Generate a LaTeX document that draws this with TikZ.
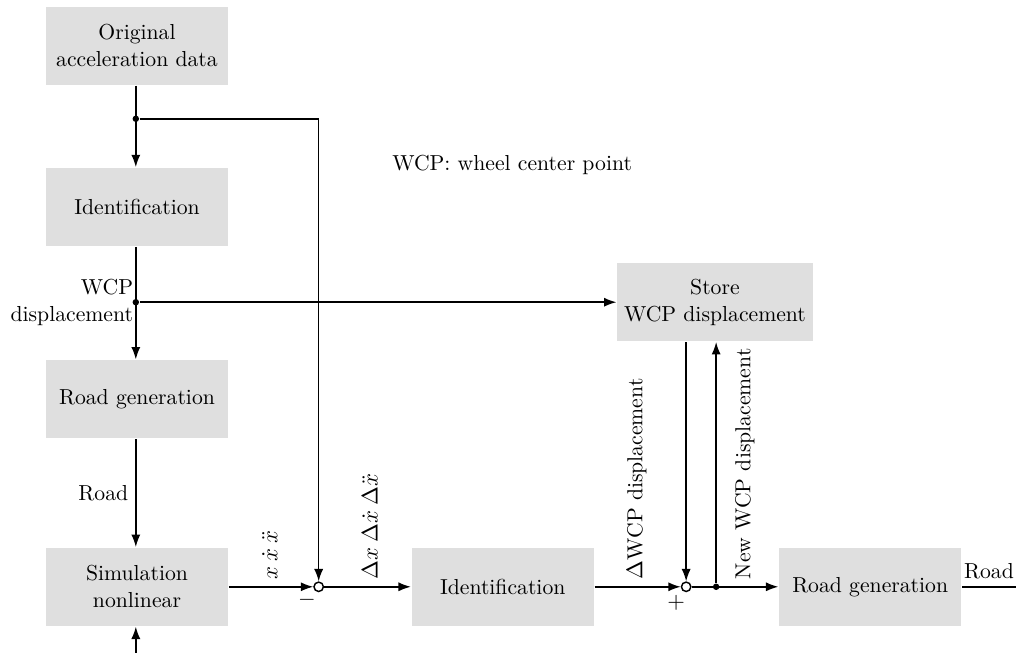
\documentclass[tikz,border=0pt]{standalone}
\usetikzlibrary{arrows.meta}

\begin{document}
\begin{tikzpicture}
  [>={Latex[length=6pt,width=4.4pt]},line width=0.7pt,
   every node/.style={font=\fontsize{10.5pt}{13pt}\selectfont},
   block/.style={rectangle,fill=gray!25,minimum width=3.1cm,minimum height=1.33cm,align=center},
   sum/.style={circle,draw,fill=white,inner sep=0pt,minimum size=1.6mm},
   dot/.style={circle,fill,inner sep=0pt,minimum size=1.1mm}]
  \useasboundingbox (0,0) rectangle (17.28,-11.1);
  % blocks
  \node[block] (orig) at (2.33,-0.78) {Original\\acceleration data};
  \node[block] (ident) at (2.33,-3.52) {Identification};
  \node[block] (road) at (2.33,-6.79) {Road generation};
  \node[block] (sim) at (2.33,-9.98) {Simulation\\nonlinear};
  \node[block] (ident2) at (8.55,-9.98) {Identification};
  \node[block] (road2) at (14.80,-9.98) {Road generation};
  \node[block,minimum width=3.3cm] (store) at (12.16,-5.14) {Store\\WCP displacement};
  \node (note) at (8.71,-2.81) {WCP: wheel center point};
  % junctions and branch points
  \node[sum] (s1) at (5.42,-9.98) {};
  \node[sum] (s2) at (11.67,-9.98) {};
  \node[dot] (d1) at (2.31,-2.02) {};
  \node[dot] (d2) at (2.31,-5.14) {};
  \node[dot] (d3) at (12.18,-9.98) {};
  \coordinate (c1) at (5.42,-2.02);
  \coordinate (in) at (2.31,-11.1);
  \coordinate (out) at (17.28,-9.98);
  % connections
  \draw[->] (orig.south -| d1) -- (ident.north -| d1);
  \draw[->] (d1) -- (c1) -- (s1);
  \draw[->] (ident.south -| d2) -- (road.north -| d2);
  \draw[->] (d2) -- (store);
  \draw[->] (road.south -| d2) -- node[left] {Road} (sim.north -| d2);
  \draw[->] (in) -- (sim.south -| in);
  \draw[->] (sim) -- (s1);
  \draw[->] (s1) -- (ident2);
  \draw[->] (ident2) -- (s2);
  \draw[->] (store.south -| s2) -- (s2);
  \draw[->] (s2) -- (road2);
  \draw[->] (d3) -- (store.south -| d3);
  \draw (road2) -- node[above] {Road} (out);
  % signal labels
  \node[left,align=right,inner sep=1pt] (lwcp) at (d2) {WCP\\displacement};
  \node[rotate=90,anchor=west] (lx) at (4.59,-9.98) {$x\:\dot{x}\:\ddot{x}$};
  \node[rotate=90,anchor=west] (ldx) at (6.29,-9.98) {$\Delta x\:\Delta\dot{x}\:\Delta\ddot{x}$};
  \node[rotate=90,anchor=west] (ldwcp) at (10.83,-9.98) {$\Delta$WCP displacement};
  \node[rotate=90,anchor=west] (lnew) at (12.67,-9.98) {New WCP displacement};
  \node (minus) at ([xshift=-2mm,yshift=-2.3mm]s1.center) {$-$};
  \node (plus) at ([xshift=-1.7mm,yshift=-2.7mm]s2.center) {$+$};
\end{tikzpicture}
\end{document}
